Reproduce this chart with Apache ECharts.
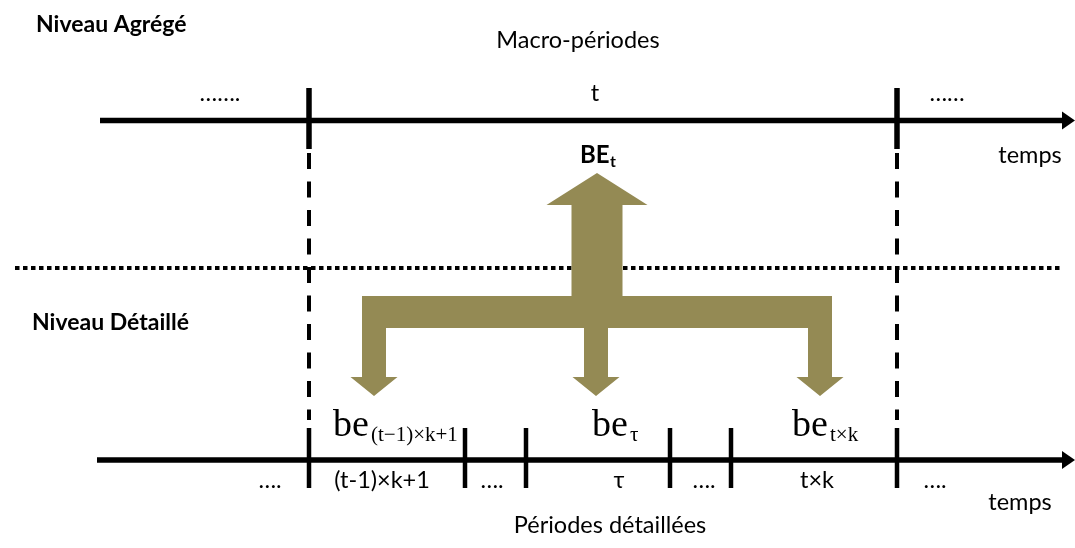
<!DOCTYPE html>
<html><head><meta charset="utf-8">
<script src="https://cdn.jsdelivr.net/npm/echarts@6/dist/echarts.min.js"></script>
<style>html,body{margin:0;padding:0;background:#fff}#chart{width:1075px;height:548px}</style>
</head><body><div id="chart"></div>
<script>
// ---------------- data (diagram units on hidden value axes: x 0..1075, y 0..548 top-down) ----------------
const rowY = [120.5, 460];                         // aggregated row, detailed row
const rowStartX = [100, 97];
const macroBoundaries = [309, 897];
const detailBoundaries = [309, 465, 526, 670, 731, 897];
const macroLabels = ['…….', 't', '……'];
const macroLabelX = [220, 595, 947];
const detailLabels = ['….', '(t-1)×k+1', '….', 'τ', '….', 't×k', '….'];
const detailLabelX = [270, 382, 492, 619, 704, 817, 935];
const beSubscripts = ['(t−1)×k+1', 'τ', 't×k'];
const beX = [333, 592, 792];
const flowSource = 597;
const flowTargets = [374, 596, 820];
const separatorY = [268];

// ---------------- styles ----------------
const SANS = 'Lato, "Open Sans", sans-serif';
const SERIF = '"Liberation Serif", "Times New Roman", serif';
const OLIVE = '#948A54';
const REG = 23.5, BOLD = 23;

const textItems = [];
function addText(x, base, text, size, weight, family, align, mid) {
  textItems.push({ value: [x, base], text, size, weight, family, align, mid });
}
addText(36, 32, 'Niveau Agrégé', BOLD, 'bold', SANS, 'left', 0.32);
addText(578, 48, 'Macro-périodes', REG, 'normal', SANS, 'center', 0.32);
macroLabels.forEach((t, i) => addText(macroLabelX[i], 101, t, REG, 'normal', SANS, 'center', 0.32));
addText(1030, 163, 'temps', REG, 'normal', SANS, 'center', 0.32);
addText(580, 163, 'BE', 24, 'bold', SANS, 'left', 0.32);
addText(610, 167, 't', 16, 'bold', SANS, 'left', 0.32);
addText(32, 330, 'Niveau Détaillé', BOLD, 'bold', SANS, 'left', 0.32);
beSubscripts.forEach((s, i) => {
  addText(beX[i], 438, 'be', 38, 'normal', SERIF, 'left', 0.31);
  addText(beX[i] + 38, 442, s, 21, 'normal', SERIF, 'left', 0.31);
});
detailLabels.forEach((t, i) => addText(detailLabelX[i], 488, t, REG, 'normal', SANS, 'center', 0.32));
addText(1020, 510, 'temps', REG, 'normal', SANS, 'center', 0.32);
addText(610, 533, 'Périodes détaillées', REG, 'normal', SANS, 'center', 0.32);

// ---------------- render helpers ----------------
function renderAxisRow(params, api) {
  const y = api.value(1);
  const a = api.coord([api.value(0), y]);
  const b = api.coord([1075, y]);
  return { type: 'group', children: [
    { type: 'line', shape: { x1: a[0], y1: a[1], x2: b[0] - 10, y2: b[1] }, style: { stroke: '#000', lineWidth: 5.5 } },
    { type: 'polygon', shape: { points: [[b[0] - 13, b[1] - 9], [b[0], b[1]], [b[0] - 13, b[1] + 9]] }, style: { fill: '#000' } }
  ]};
}
function tickRenderer(top, bottom, width) {
  return function (params, api) {
    const x = api.value(0);
    const a = api.coord([x, top]), b = api.coord([x, bottom]);
    return { type: 'line', shape: { x1: a[0], y1: a[1], x2: b[0], y2: b[1] }, style: { stroke: '#000', lineWidth: width } };
  };
}
function renderBoundary(params, api) {
  const x = api.value(0);
  const a = api.coord([x, 153]), b = api.coord([x, 420]);
  return { type: 'line', shape: { x1: a[0], y1: a[1], x2: b[0], y2: b[1] },
    style: { stroke: '#000', lineWidth: 4, lineDash: [16, 12.5], lineCap: 'butt' } };
}
function renderSeparator(params, api) {
  const y = api.value(0);
  const a = api.coord([15, y]), b = api.coord([1060, y]);
  return { type: 'line', shape: { x1: a[0], y1: a[1], x2: b[0], y2: b[1] },
    style: { stroke: '#000', lineWidth: 4, lineDash: [4.5, 3.5], lineCap: 'butt' } };
}
function renderFlow(params, api) {
  const s = api.value(0);
  const upTip = 173, upHeadY = 205, upHeadHalf = 50.5, upShaftHalf = 25.5;
  const barTop = 296, barBottom = 328, dsh = 12, dhh = 23.5, headY = 377, tipY = 396;
  const pts = [[s, upTip], [s + upHeadHalf, upHeadY], [s + upShaftHalf, upHeadY], [s + upShaftHalf, barTop]];
  const sorted = flowTargets.slice().sort((p, q) => q - p);
  sorted.forEach((x, i) => {
    const first = i === 0, last = i === sorted.length - 1;
    pts.push([x + dsh, first ? barTop : barBottom]);
    pts.push([x + dsh, headY], [x + dhh, headY], [x, tipY], [x - dhh, headY], [x - dsh, headY]);
    pts.push([x - dsh, last ? barTop : barBottom]);
  });
  pts.push([s - upShaftHalf, barTop], [s - upShaftHalf, upHeadY], [s - upHeadHalf, upHeadY]);
  return { type: 'polygon', shape: { points: pts.map(p => api.coord(p)) }, style: { fill: OLIVE } };
}
function renderText(params, api) {
  const it = textItems[params.dataIndex];
  const p = api.coord([api.value(0), api.value(1) - it.mid * it.size]);
  return { type: 'text', x: p[0], y: p[1], style: {
    text: it.text, fill: '#000', align: it.align, verticalAlign: 'middle',
    font: it.weight + ' ' + it.size + 'px ' + it.family } };
}

const chart = echarts.init(document.getElementById('chart'), null, { renderer: 'canvas' });
chart.setOption({
  animation: false,
  backgroundColor: '#fff',
  grid: { left: 0, right: 0, top: 0, bottom: 0 },
  xAxis: { type: 'value', min: 0, max: 1075, show: false },
  yAxis: { type: 'value', min: 0, max: 548, inverse: true, show: false },
  tooltip: { show: false },
  series: [
    { type: 'custom', name: 'separator', renderItem: renderSeparator, data: separatorY.map(y => [y]), silent: true },
    { type: 'custom', name: 'boundaries', renderItem: renderBoundary, data: macroBoundaries.map(x => [x]), silent: true },
    { type: 'custom', name: 'rows', renderItem: renderAxisRow, data: rowY.map((y, i) => [rowStartX[i], y]), silent: true },
    { type: 'custom', name: 'macroTicks', renderItem: tickRenderer(88, 149, 5.5), data: macroBoundaries.map(x => [x]), silent: true },
    { type: 'custom', name: 'detailTicks', renderItem: tickRenderer(428, 488, 4.5), data: detailBoundaries.map(x => [x]), silent: true },
    { type: 'custom', name: 'flow', renderItem: renderFlow, data: [[flowSource]], silent: true },
    { type: 'custom', name: 'texts', renderItem: renderText, data: textItems.map(t => t.value), silent: true }
  ]
});
</script></body></html>
